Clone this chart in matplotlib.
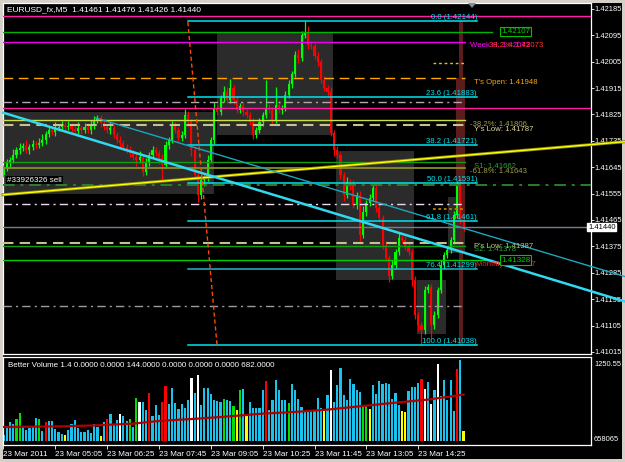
import matplotlib
matplotlib.use("Agg")
import matplotlib.pyplot as plt
from matplotlib.patches import Rectangle, Polygon
from matplotlib.transforms import offset_copy

W, H = 625, 462
plt.rcParams['font.family'] = ['Liberation Sans', 'DejaVu Sans']

# ---- data ----
first_open = 1.41620
closes = [1.41642, 1.41659, 1.41670, 1.41687, 1.41704, 1.41711, 1.41717, 1.41704, 1.41714, 1.41724,
          1.41721, 1.41728, 1.41738, 1.41758, 1.41772, 1.41765, 1.41779, 1.41782, 1.41789, 1.41782,
          1.41786, 1.41775, 1.41769, 1.41779, 1.41772, 1.41782, 1.41772, 1.41786, 1.41806, 1.41813,
          1.41796, 1.41782, 1.41772, 1.41779, 1.41755, 1.41738, 1.41728, 1.41714, 1.41704, 1.41694,
          1.41680, 1.41670, 1.41680, 1.41629, 1.41663, 1.41687, 1.41704, 1.41694, 1.41676, 1.41653,
          1.41721, 1.41738, 1.41789, 1.41772, 1.41745, 1.41755, 1.41823, 1.41799, 1.41704, 1.41619,
          1.41550, 1.41601, 1.41608, 1.41670, 1.41738, 1.41847, 1.41833, 1.41881, 1.41902, 1.41874,
          1.41915, 1.41874, 1.41840, 1.41854, 1.41833, 1.41823, 1.41799, 1.41755, 1.41772, 1.41799,
          1.41823, 1.41847, 1.41840, 1.41806, 1.41857, 1.41840, 1.41847, 1.41891, 1.41929, 1.41963,
          1.42028, 1.42017, 1.42096, 1.42106, 1.42062, 1.42058, 1.42024, 1.42004, 1.41942, 1.41915,
          1.41902, 1.41762, 1.41704, 1.41687, 1.41619, 1.41550, 1.41595, 1.41581, 1.41516, 1.41550,
          1.41414, 1.41492, 1.41523, 1.41540, 1.41574, 1.41506, 1.41472, 1.41380, 1.41335, 1.41274,
          1.41312, 1.41356, 1.41404, 1.41397, 1.41376, 1.41356, 1.41260, 1.41141, 1.41107, 1.41090,
          1.41226, 1.41237, 1.41107, 1.41141, 1.41226, 1.41312, 1.41346, 1.41363, 1.41397, 1.41482,
          1.41584, 1.41461, 1.41440]
# wicks in pips
wick_up = [1.0, 1.5, 1.0, 2.0, 1.0, 1.5, 1.0, 2.0, 1.0, 1.5,
           1.0, 1.5, 2.0, 1.0, 1.5, 1.0, 2.0, 1.0, 1.5, 1.0,
           1.5, 1.0, 1.0, 2.0, 1.0, 1.5, 1.0, 2.0, 1.5, 1.0,
           1.0, 1.5, 1.0, 2.0, 1.0, 1.0, 1.5, 1.0, 1.0, 1.5,
           1.0, 1.5, 2.0, 1.0, 1.5, 1.0, 1.5, 1.0, 1.0, 1.5,
           1.5, 1.0, 1.5, 1.0, 1.0, 1.5, 2.0, 1.5, 1.0, 1.5,
           1.0, 1.5, 1.0, 1.5, 1.0, 2.0, 1.5, 1.0, 2.0, 1.5,
           3.0, 1.0, 1.5, 1.0, 1.5, 1.0, 1.0, 1.5, 1.0, 1.5,
           1.0, 9.5, 1.5, 1.0, 6.0, 1.5, 1.0, 1.5, 1.5, 1.0,
           1.5, 2.0, 1.5, 3.8, 2.0, 1.5, 1.0, 1.5, 1.0, 1.5,
           1.0, 1.5, 1.0, 1.5, 1.0, 1.0, 1.5, 1.0, 2.0, 1.0,
           1.5, 2.0, 1.0, 1.5, 1.0, 1.5, 1.0, 1.0, 1.5, 1.0,
           1.5, 1.0, 2.0, 1.0, 1.5, 1.0, 1.0, 1.5, 1.0, 1.0,
           1.5, 1.0, 1.0, 1.5, 1.0, 1.5, 1.0, 1.5, 1.0, 1.5,
           1.5, 2.4, 1.5]
wick_dn = [1.0, 1.0, 1.5, 1.0, 1.0, 1.5, 1.0, 1.0, 1.5, 1.0,
           1.5, 1.0, 1.0, 1.5, 1.0, 1.0, 1.5, 1.0, 1.0, 1.5,
           1.0, 1.5, 1.0, 1.0, 1.5, 1.0, 1.0, 1.5, 1.0, 1.0,
           1.5, 1.0, 1.0, 1.5, 1.0, 1.0, 1.5, 1.0, 1.0, 1.5,
           1.0, 2.0, 1.0, 1.5, 1.0, 1.5, 1.0, 1.0, 2.0, 5.0,
           1.0, 1.5, 1.0, 1.0, 1.5, 1.0, 1.0, 1.5, 2.0, 1.5,
           2.4, 1.5, 2.0, 1.0, 1.0, 1.5, 1.0, 1.0, 1.5, 1.0,
           1.0, 1.5, 1.0, 1.0, 1.5, 1.0, 1.0, 1.5, 1.0, 1.0,
           1.5, 1.0, 1.0, 1.5, 1.0, 1.0, 1.5, 1.0, 1.0, 1.5,
           1.0, 1.5, 1.0, 1.0, 1.5, 1.0, 1.0, 1.5, 1.0, 1.0,
           1.5, 1.0, 2.0, 1.0, 1.5, 2.0, 1.0, 1.5, 1.0, 1.5,
           2.0, 1.0, 1.5, 1.0, 1.0, 1.5, 1.0, 1.5, 1.0, 2.0,
           1.0, 1.5, 1.0, 1.0, 1.5, 1.0, 2.0, 1.5, 2.0, 5.2,
           1.5, 1.0, 4.5, 1.5, 1.0, 1.0, 1.5, 1.0, 1.0, 1.5,
           1.0, 1.0, 1.4]

volumes = [92, 216, 308, 270, 362, 454, 227, 184, 216, 227,
           373, 362, 162, 308, 324, 324, 200, 146, 119, 92,
           173, 281, 335, 216, 146, 146, 173, 135, 270, 227,
           76, 308, 351, 443, 254, 335, 432, 400, 319, 362,
           227, 702, 632, 632, 508, 783, 410, 578, 427, 632,
           891, 605, 859, 621, 518, 605, 535, 659, 1026, 778,
           1075, 578, 859, 859, 767, 659, 648, 626, 686, 659,
           648, 562, 508, 821, 848, 443, 632, 540, 540, 540,
           821, 972, 497, 659, 983, 821, 659, 659, 621, 929,
           832, 686, 551, 481, 497, 508, 508, 697, 535, 524,
           740, 1145, 632, 902, 1188, 751, 659, 1010, 929, 821,
           794, 578, 562, 513, 902, 767, 972, 929, 940, 929,
           686, 783, 578, 481, 464, 805, 875, 875, 940, 1010,
           837, 956, 605, 832, 1253, 724, 994, 670, 983, 481,
           1172, 1307, 162]
vol_kind = ("bbbbggbbbb" "bgbrbbbbby" "bbbbbbbbbb" "ybrbbbwbbg" "bgwbbrbbbr"
            "rbbbbbbbwb" "wbbbbbbbgb" "bgygbybbbb" "brbbbbbbgb" "bbbbbbbbby"
            "bwbbbbbbbb" "bggybbbbbb" "bbbyybbbbr" "wbwbwbbbbb" "rby")
ma_idx = [0, 19, 29, 40, 48, 60, 70, 80, 90, 100, 110, 121, 131, 142]
ma_val = [227, 238, 254, 281, 324, 362, 400, 443, 470, 508, 562, 621, 670, 751]

time_idx = [0, 16, 32, 48, 64, 80, 96, 112, 128]
time_labels = ["23 Mar 2011", "23 Mar 05:05", "23 Mar 06:25", "23 Mar 07:45", "23 Mar 09:05",
               "23 Mar 10:25", "23 Mar 11:45", "23 Mar 13:05", "23 Mar 14:25"]
price_ticks = [1.42185, 1.42095, 1.42005, 1.41915, 1.41825, 1.41735, 1.41645,
               1.41555, 1.41465, 1.41375, 1.41285, 1.41195, 1.41105, 1.41015]

fib_names = ["0.0", "23.6", "38.2", "50.0", "61.8", "76.4", "100.0"]
fib_prices = [1.42144, 1.41883, 1.41721, 1.41591, 1.41461, 1.41299, 1.41038]

# horizontal levels
level_prices = [1.42161, 1.42107, 1.42072, 1.42001, 1.41949, 1.41866, 1.41847, 1.41807,
                1.41788, 1.41663, 1.41643, 1.41586, 1.41520, 1.41502, 1.41440, 1.41387,
                1.41378, 1.41328, 1.41173]
level_style = [  # x0 px, x1 px, color, linestyle, lw
    (3, 591, '#ff20a8', '-', 1.0),
    (3, 492, '#00b400', '-', 1.0),
    (3, 465, '#ee00ee', '-', 1.0),
    (433, 465, '#e8c000', (0, (2, 2)), 1.0),
    (3, 465, '#ffa500', (0, (7, 4)), 1.0),
    (3, 465, '#b0a8b0', (0, (6, 3, 1.5, 3)), 1.0),
    (3, 591, '#ff1aa0', '-', 1.0),
    (3, 465, '#c8e040', '-', 1.0),
    (3, 465, '#c8c090', (0, (5, 3)), 1.5),
    (3, 465, '#10a010', '-', 1.0),
    (3, 465, '#8c8c28', '-', 1.3),
    (3, 591, '#2a802a', (0, (6, 3, 1.5, 3)), 1.4),
    (3, 465, '#f0d8f0', (0, (6, 3, 1.5, 3)), 1.0),
    (433, 465, '#c08000', (0, (1.5, 1.5)), 1.3),
    (3, 591, '#708090', '-', 1.0),
    (3, 465, '#c8c090', (0, (5, 3)), 1.5),
    (3, 465, '#10a010', '-', 1.0),
    (3, 492, '#00d000', '-', 1.0),
    (3, 465, '#a098a0', (0, (6, 3, 1.5, 3)), 1.0),
]

# trendlines (bar, price)
trend_thick = ([-0.15, 191.8], [1.41831, 1.41187])
trend_thin = ([28.2, 191.8], [1.41814, 1.41272])
trend_yellow = ([-0.15, 191.8], [1.41551, 1.41732])
trend_orange = ([56.9, 65.9], [1.42140, 1.41039])

# session boxes: (bar0, bar1, price_top, price_bottom)
boxes = [(-0.15, 65.0, 1.41833, 1.41554),
         (65.9, 101.7, 1.42106, 1.41755),
         (102.6, 126.7, 1.41700, 1.41260),
         (127.6, 136.6, 1.41260, 1.41076),
         (137.2, 142.4, 1.41543, 1.41353)]
day_open, day_close, day_high, day_low = 1.41949, 1.41440, 1.42144, 1.41038


def frect(x0, y0, x1, y1):
    return [x0 / W, 1 - y1 / H, (x1 - x0) / W, (y1 - y0) / H]


def bx(px):
    return (px - 3.5) / 3.24


fig = plt.figure(figsize=(W / 100, H / 100), dpi=100, facecolor='#d4d0c8')
fig.add_artist(Rectangle((3 / W, 1 - 459 / H), 619 / W, 456 / H, transform=fig.transFigure,
                         facecolor='black', edgecolor='none', zorder=0))

ax = fig.add_axes(frect(3, 3, 591, 354))
vax = fig.add_axes(frect(3, 357, 591, 445))
for a in (ax, vax):
    a.set_facecolor('black')
    for s in a.spines.values():
        s.set_color('white')
        s.set_linewidth(0.9)

n = len(closes)
idx = list(range(n))
opens = [first_open] + closes[:-1]
highs = [max(o, c) + u * 1e-4 for o, c, u in zip(opens, closes, wick_up)]
lows = [min(o, c) - d * 1e-4 for o, c, d in zip(opens, closes, wick_dn)]
ccol = ['#00ff00' if c >= o else '#ff0000' for o, c in zip(opens, closes)]

ax.set_xlim(bx(3), bx(591))
ax.set_ylim(1.41008, 1.42205)

for b0, b1, pt, pb in boxes:
    ax.add_patch(Rectangle((b0, pb), b1 - b0, pt - pb, facecolor='#2b2b2b', edgecolor='none', zorder=1))

# today's candle behind the bars
ax.add_patch(Rectangle((bx(459), day_low), bx(463) - bx(459), day_high - day_low,
                       facecolor='#5a1c1c', edgecolor='none', zorder=2))
ax.add_patch(Rectangle((bx(456), day_close), bx(465) - bx(456), day_open - day_close,
                       facecolor='#5a1c1c', edgecolor='none', zorder=2))

ax.vlines(idx, lows, highs, colors=ccol, lw=0.9, zorder=3)
ax.bar(idx, [max(abs(c - o), 0.00003) for o, c in zip(opens, closes)],
       bottom=[min(o, c) for o, c in zip(opens, closes)], width=0.66, color=ccol, zorder=3)

for p, (x0, x1, col, ls, lw) in zip(level_prices, level_style):
    ax.plot([bx(x0), bx(x1)], [p, p], color=col, linestyle=ls, lw=lw, zorder=4)

for name, p in zip(fib_names, fib_prices):
    col = '#20b8c8' if name == "76.4" else '#00e4f0'
    ax.plot([bx(188), bx(477)], [p, p], color=col, lw=1.1, zorder=4)
    ax.text(bx(477), p, f"{name} ({p:.5f})", color='#00e4f0', fontsize=5.6,
            ha='right', va='bottom', zorder=6)

ax.plot(*trend_yellow, color='#8a8a10', lw=2.2, zorder=4, clip_on=False)
ax.plot(*trend_yellow, color='#ffff00', lw=1.0, zorder=4, clip_on=False)
ax.plot(*trend_thin, color='#1aa8c0', lw=1.0, zorder=4, clip_on=False)
ax.plot(*trend_thick, color='#30d8f0', lw=1.8, zorder=4, clip_on=False)
ax.plot(*trend_orange, color='#ff4800', lw=1.0, linestyle=(0, (3, 2)), zorder=4)

# right side labels
below = offset_copy(ax.transData, fig=fig, y=-4, units='dots')
ax.text(bx(470), 1.42073, "Week H: 1.42073", color='#ff00ff', fontsize=5.6, va='center', transform=below, zorder=6)
ax.text(bx(489), 1.42073, "38.2%: 1.42073", color='#ff3030', fontsize=5.6, va='center', transform=below, zorder=6)
ax.text(bx(474), 1.41948, "T's Open: 1.41948", color='#ffa500', fontsize=5.6, va='center', transform=below, zorder=6)
ax.text(bx(470), 1.41806, "-38.2%: 1.41806", color='#a0a040', fontsize=5.6, va='center', transform=below, zorder=6)
ax.text(bx(474), 1.41787, "Y's Low: 1.41787", color='#e0d8a0', fontsize=5.6, va='center', transform=below, zorder=6)
ax.text(bx(474), 1.41662, "S1: 1.41662", color='#30a030', fontsize=5.6, va='center', transform=below, zorder=6)
ax.text(bx(470), 1.41643, "-61.8%: 1.41643", color='#a0a040', fontsize=5.6, va='center', transform=below, zorder=6)
ax.text(bx(474), 1.41387, "P's Low: 1.41387", color='#c8c080', fontsize=5.6, va='center', transform=below, zorder=6)
ax.text(bx(474), 1.41378, "S2: 1.41378", color='#30a030', fontsize=5.6, va='center', transform=below, zorder=6)
ax.text(bx(476), 1.41327, "Monthly: 1.41327", color='#ff2020', fontsize=5.6, va='center', transform=below, zorder=6)
for p in (1.42107, 1.41328):
    ax.text(bx(501), p, f"{p:.5f}", color='#00d000', fontsize=5.8, va='center', zorder=7,
            bbox=dict(boxstyle='square,pad=0.15', facecolor='black', edgecolor='#00c000', lw=0.8))

ax.text(bx(7), 1.41586, "#33926326 sell", color='white', fontsize=5.8, va='bottom', zorder=7,
        transform=offset_copy(ax.transData, fig=fig, y=1, units='dots'),
        bbox=dict(boxstyle='square,pad=0.1', facecolor='black', edgecolor='none'))

ax.set_xticks([])
ax.yaxis.tick_right()
ax.set_yticks(price_ticks)
ax.set_yticklabels([f"{p:.5f}" for p in price_ticks])
ax.tick_params(axis='y', colors='white', labelsize=5.4, length=2, width=0.6, pad=0.8)

# volume panel
vcolors = {'b': '#19c3ee', 'g': '#00e000', 'r': '#ff0000', 'w': '#ffffff', 'y': '#ffff00'}
vax.bar(idx, volumes, width=0.68, color=[vcolors[k] for k in vol_kind], zorder=2)
vax.plot(ma_idx, ma_val, color='#b00000', lw=1.6, zorder=3)
vax.set_xlim(bx(3), bx(591))
vax.set_ylim(-65, 1360)
vax.yaxis.tick_right()
vax.set_yticks([1250.55, 40])
vax.set_yticklabels(["1250.55", "658065"])
vax.tick_params(axis='y', colors='white', labelsize=5.4, length=0, pad=2.2)
vax.set_xticks(time_idx)
vax.set_xticklabels(time_labels)
vax.tick_params(axis='x', colors='white', labelsize=5.8, length=3, width=0.6, pad=1.5)
for lbl in vax.get_xticklabels():
    lbl.set_horizontalalignment('left')
vax.text(0.008, 0.9, "Better Volume 1.4 0.0000 0.0000 144.0000 0.0000 0.0000 0.0000 682.0000",
         transform=vax.transAxes, color='white', fontsize=5.8, va='center')

# header, current price tag, shift marker
fig.text(7 / W, 1 - 10 / H, "EURUSD_fx,M5  1.41461 1.41476 1.41426 1.41440",
         color='white', fontsize=6, va='center')
fig.text(588 / W, 1 - 227 / H, "1.41440", color='black', fontsize=5.4, va='center',
         bbox=dict(boxstyle='square,pad=0.12', facecolor='white', edgecolor='white'))
fig.add_artist(Polygon([[468 / W, 1 - 3 / H], [476 / W, 1 - 3 / H], [472 / W, 1 - 8 / H]],
                       closed=True, transform=fig.transFigure, facecolor='#8090a0', edgecolor='none'))

fig.savefig("out.png", dpi=100, facecolor=fig.get_facecolor())
